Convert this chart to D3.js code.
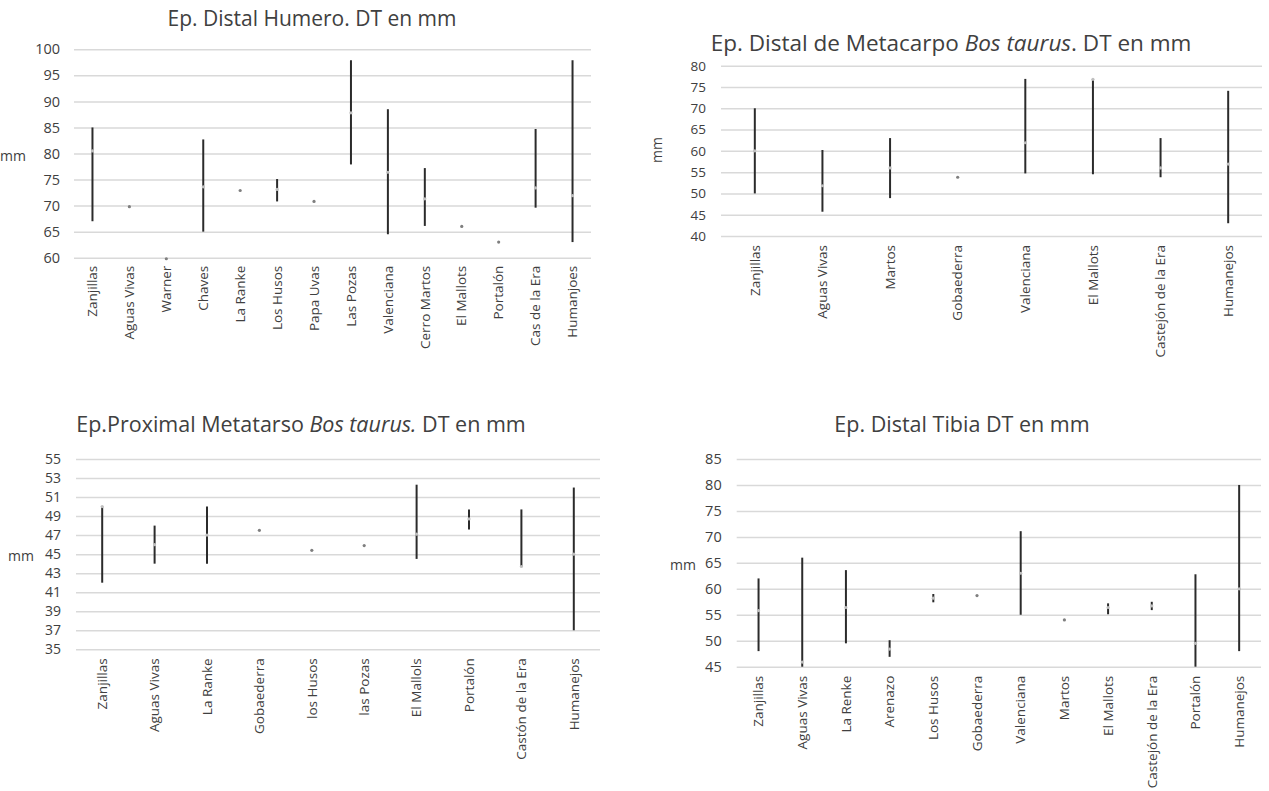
<!DOCTYPE html>
<html><head><meta charset="utf-8">
<script src="https://cdn.jsdelivr.net/npm/d3@7"></script>
<style>
body{margin:0;background:#fff;}
svg{display:block;}
text{font-family:"Open Sans",Lato,sans-serif;fill:#404040;}
</style></head>
<body>
<svg id="chart" width="1269" height="791"></svg>
<script>
// ---- Panel 1: Ep. Distal Humero ----
const p1Categories = ["Zanjillas","Aguas Vivas","Warner","Chaves","La Ranke","Los Husos","Papa Uvas","Las Pozas","Valenciana","Cerro Martos","El Mallots","Portalón","Cas de la Era","Humanjoes"];
const p1Highs = [85, null, null, 82.7, null, 75.1, null, 97.9, 88.5, 77.2, null, null, 84.7, 97.9];
const p1Lows  = [67, null, null, 65.0, null, 70.8, null, 77.9, 64.5, 66.1, null, null, 69.6, 63.0];
const p1Means = [80.5, 69.8, 59.8, 73.6, 72.9, 73.1, 70.8, 87.8, 76.4, 71.3, 66.0, 63.0, 73.4, 71.9];
const p1Ticks = [60,65,70,75,80,85,90,95,100];

// ---- Panel 2: Ep. Distal de Metacarpo ----
const p2Categories = ["Zanjillas","Aguas Vivas","Martos","Gobaederra","Valenciana","El Mallots","Castejón de la Era","Humanejos"];
const p2Highs = [70, 60.2, 63.0, null, 76.9, 76.9, 63.0, 74.1];
const p2Lows  = [50, 45.7, 48.9, null, 54.7, 54.5, 53.8, 43.0];
const p2Means = [60, 51.8, 56.0, 53.8, 61.9, 76.8, 56.0, 56.9];
const p2Ticks = [40,45,50,55,60,65,70,75,80];

// ---- Panel 3: Ep. Proximal Metatarso ----
const p3Categories = ["Zanjillas","Aguas Vivas","La Ranke","Gobaederra","los Husos","las Pozas","El Mallols","Portalón","Castón de la Era","Humanejos"];
const p3Highs = [50, 48, 50, null, null, null, 52.3, 49.7, 49.7, 52.0];
const p3Lows  = [42, 44, 44, null, null, null, 44.5, 47.6, 43.7, 37.0];
const p3Means = [50, 46, 47, 47.5, 45.4, 45.9, 47.1, 48.7, 43.7, 45.0];
const p3Ticks = [35,37,39,41,43,45,47,49,51,53,55];

// ---- Panel 4: Ep. Distal Tibia ----
const p4Categories = ["Zanjillas","Aguas Vivas","La Renke","Arenazo","Los Husos","Gobaederra","Valenciana","Martos","El Mallots","Castejón de la Era","Portalón","Humanejos"];
const p4Highs = [62, 66, 63.6, 50.1, 59.0, null, 71.1, null, 57.2, 57.5, 62.8, 80];
const p4Lows  = [48, 45, 49.5, 46.9, 57.4, null, 55.0, null, 55.1, 55.9, 45.0, 48];
const p4Means = [55.8, 45.9, 56.4, 48.4, 58.2, 58.7, 63.0, 54.0, 56.4, 56.7, 49.5, 60.0];
const p4Ticks = [45,50,55,60,65,70,75,80,85];

const svg = d3.select("#chart");

function drawPanel(cfg){
  const g = svg.append("g");
  const y = d3.scaleLinear().domain(d3.extent(cfg.ticks)).range([cfg.bottom, cfg.top]);
  const x = d3.scaleBand().domain(cfg.categories).range([cfg.left, cfg.right]);
  const yAxis = d3.axisLeft(y).tickValues(cfg.ticks).tickSize(-(cfg.right-cfg.left)).tickPadding(cfg.tickPad).tickFormat(d3.format("d"));
  const ya = g.append("g").attr("transform", `translate(${cfg.left},0)`).call(yAxis);
  ya.select(".domain").remove();
  ya.selectAll(".tick line").attr("stroke","#d9d9d9").attr("stroke-width",1.5);
  ya.selectAll(".tick text").style("font-size", cfg.tickFont+"px").style("fill","#404040").style("font-family","'Open Sans', sans-serif");
  const xAxis = d3.axisBottom(x).tickSize(0).tickPadding(0);
  const xa = g.append("g").attr("transform", `translate(0,${cfg.bottom})`).call(xAxis);
  xa.select(".domain").remove();
  xa.selectAll(".tick text")
    .attr("transform","rotate(-90)")
    .attr("x", -cfg.labelGap).attr("y", 0).attr("dy","0.35em")
    .style("text-anchor","end")
    .style("font-size", cfg.labelFont+"px").style("fill","#404040").style("font-family","'Open Sans', sans-serif");
  const data = cfg.categories.map((c,i)=>({c, hi:cfg.highs[i], lo:cfg.lows[i], m:cfg.means[i]}));
  g.selectAll("line.rng").data(data.filter(d=>d.hi!=null)).enter().append("line")
    .attr("class","rng")
    .attr("x1", d=>x(d.c)+x.bandwidth()/2).attr("x2", d=>x(d.c)+x.bandwidth()/2)
    .attr("y1", d=>y(d.hi)).attr("y2", d=>y(d.lo))
    .attr("stroke","#2b2b2b").attr("stroke-width",2);
  g.selectAll("circle.pt").data(data).enter().append("circle")
    .attr("class","pt")
    .attr("cx", d=>x(d.c)+x.bandwidth()/2).attr("cy", d=>y(d.m))
    .attr("r",1.6)
    .attr("fill", d=>d.hi!=null ? "#bfbfbf" : "#7f7f7f");
  const mm = g.append("text").attr("x", cfg.mmX).attr("y", cfg.mmY).style("font-size", cfg.mmFont+"px").text("mm");
  if(cfg.mmRotate){
    mm.attr("transform", `rotate(-90,${cfg.mmX},${cfg.mmY})`).attr("text-anchor","middle");
  } else {
    mm.attr("text-anchor","end").attr("dy","0.35em");
  }
  const t = g.append("text").attr("x", cfg.titleX).attr("y", cfg.titleY).attr("text-anchor","middle").style("font-size", cfg.titleFont+"px");
  cfg.title.forEach(part=>{
    t.append("tspan").text(part.t).style("font-style", part.i ? "italic" : "normal");
  });
}

drawPanel({categories:p1Categories, highs:p1Highs, lows:p1Lows, means:p1Means, ticks:p1Ticks,
  left:74, right:591, top:49.3, bottom:257.7, tickPad:14, tickFont:14.5, labelFont:13.5, labelGap:8,
  mmX:26, mmY:156, mmFont:14, mmRotate:false,
  title:[{t:"Ep. Distal Humero. DT en mm"}], titleX:312, titleY:26, titleFont:21});

drawPanel({categories:p2Categories, highs:p2Highs, lows:p2Lows, means:p2Means, ticks:p2Ticks,
  left:721, right:1262, top:65.7, bottom:236, tickPad:15, tickFont:13.5, labelFont:13.5, labelGap:9,
  mmX:662, mmY:150, mmFont:14, mmRotate:true,
  title:[{t:"Ep. Distal de Metacarpo "},{t:"Bos taurus",i:true},{t:". DT en mm"}], titleX:951, titleY:51, titleFont:22.5});

drawPanel({categories:p3Categories, highs:p3Highs, lows:p3Lows, means:p3Means, ticks:p3Ticks,
  left:76, right:600, top:459, bottom:649.3, tickPad:15, tickFont:14, labelFont:13.5, labelGap:9,
  mmX:34, mmY:556.5, mmFont:14, mmRotate:false,
  title:[{t:"Ep.Proximal Metatarso "},{t:"Bos taurus.",i:true},{t:" DT en mm"}], titleX:301, titleY:432, titleFont:21.5});

drawPanel({categories:p4Categories, highs:p4Highs, lows:p4Lows, means:p4Means, ticks:p4Ticks,
  left:736.7, right:1261, top:459, bottom:666.7, tickPad:15, tickFont:14.5, labelFont:13.5, labelGap:9,
  mmX:696, mmY:565, mmFont:14, mmRotate:false,
  title:[{t:"Ep. Distal Tibia DT en mm"}], titleX:962, titleY:432, titleFont:21.5});
</script>
</body></html>
